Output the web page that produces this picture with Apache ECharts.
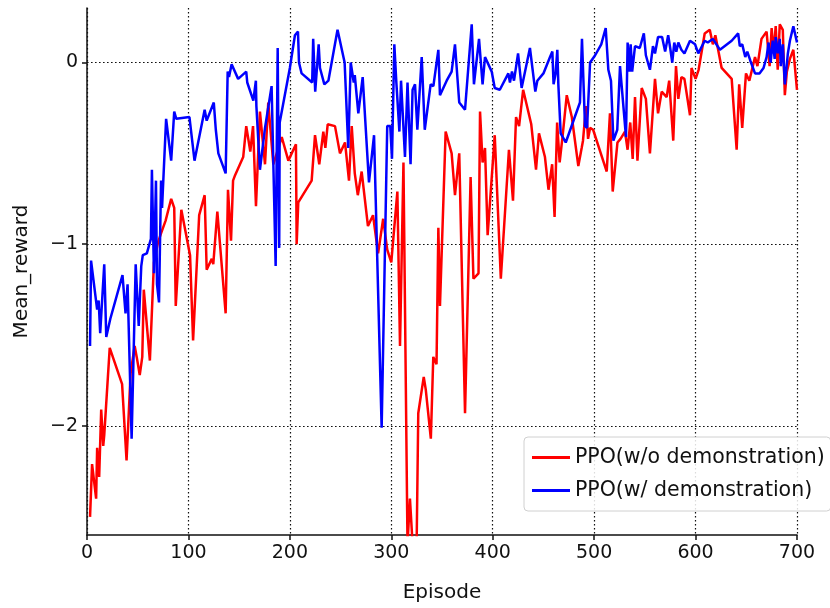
<!DOCTYPE html>
<html>
<head>
<meta charset="utf-8">
<script src="https://cdn.jsdelivr.net/npm/echarts@6/dist/echarts.min.js"></script>
<style>
html, body { margin: 0; padding: 0; background: #fff; }
#chart { width: 830px; height: 608px; }
</style>
</head>
<body>
<div id="chart"></div>
<script>
// episode / mean reward pairs
var noDemo = [
	[3,-2.50],[5,-2.21],[9,-2.40],[10,-2.12],[12,-2.28],[14,-1.91],[16,-2.11],[17,-2.05],[22.4,-1.57],
	[34.6,-1.77],[39,-2.19],[43,-1.71],[47,-1.56],[49,-1.62],[52,-1.72],[54.5,-1.62],[56,-1.25],[62,-1.64],
	[66,-1.10],[70,-0.99],[73,-0.94],[77.5,-0.87],[83,-0.75],[86,-0.80],[87.5,-1.34],[93,-0.81],[101.6,-1.06],
	[104.6,-1.53],[110.6,-0.84],[116,-0.73],[118,-1.14],[123,-1.08],[124.5,-1.11],[128.5,-0.82],[136.7,-1.38],
	[139,-0.70],[142,-0.98],[144,-0.65],[146,-0.62],[154,-0.52],[157,-0.35],[161,-0.49],[163.7,-0.35],
	[166.6,-0.79],[170.5,-0.27],[175.5,-0.56],[178.7,-0.22],[183.7,-0.56],[192,-0.41],[198.5,-0.54],
	[206,-0.45],[206.7,-1.00],[208.3,-0.77],[221.5,-0.65],[224.8,-0.40],[229,-0.56],[233,-0.38],[235,-0.47],
	[237.3,-0.34],[244.5,-0.35],[249.4,-0.50],[254.4,-0.44],[258.3,-0.65],[261,-0.35],[264,-0.61],[267,-0.73],
	[270.8,-0.60],[277,-0.90],[282,-0.84],[287,-1.05],[292,-0.86],[296,-1.03],[300,-1.10],[306,-0.71],
	[308.6,-1.56],[312,-0.55],[316,-2.65],[318.4,-2.40],[321,-2.65],[325,-2.65],[326.6,-1.93],[332,-1.73],
	[334,-1.80],[339,-2.07],[341.4,-1.62],[344.6,-1.66],[346.4,-0.91],[348,-1.34],[353.6,-0.38],[359.5,-0.50],
	[362.8,-0.73],[367,-0.50],[372.7,-1.93],[378.2,-0.63],[381,-1.19],[386,-1.16],[387.5,-0.27],[390,-0.55],
	[392.4,-0.47],[395,-0.95],[402,-0.40],[408,-1.19],[416,-0.48],[420,-0.76],[423,-0.30],[426,-0.35],
	[430,-0.15],[438,-0.34],[442.7,-0.59],[445.6,-0.39],[451.5,-0.52],[455,-0.70],[458.6,-0.56],[461,-0.85],
	[463.5,-0.33],[466,-0.55],[469,-0.40],[473,-0.18],[478,-0.30],[484.4,-0.57],[487.7,-0.47],[489,-0.43],
	[492,-0.24],[494,-0.42],[496,-0.36],[499,-0.37],[512.4,-0.60],[515.6,-0.28],[518.3,-0.71],[523,-0.44],
	[526,-0.42],[530.4,-0.38],[533,-0.48],[535.6,-0.33],[538,-0.53],[540.3,-0.19],[542.7,-0.54],[546.9,-0.14],
	[551,-0.20],[555,-0.50],[560,-0.09],[563,-0.28],[566.6,-0.16],[571.5,-0.19],[574,-0.10],[578,-0.43],
	[580.7,-0.02],[583,-0.20],[586,-0.08],[589,-0.09],[594.5,-0.29],[596,-0.03],[600,-0.09],[603,-0.04],
	[609,0.16],[614,0.18],[617,0.10],[619.5,0.15],[625.7,-0.03],[635.6,-0.09],[640.5,-0.48],[643,-0.12],
	[646,-0.36],[649.7,-0.06],[653,-0.10],[658.6,0.03],[661,-0.02],[665,0.13],[670,0.17],[673,-0.02],
	[675,0.19],[677,0.05],[679,0.20],[681,-0.04],[683,0.21],[686,0.18],[688,-0.18],[690,-0.05],[693,0.02],
	[696.4,0.07],[700,-0.15]
];
var withDemo = [
	[3,-1.56],[4,-1.09],[10,-1.36],[11.5,-1.31],[13,-1.49],[15,-1.30],[17,-1.11],[19,-1.51],[23,-1.41],
	[35,-1.17],[38,-1.38],[40,-1.22],[44,-2.07],[48,-1.11],[51,-1.45],[53.5,-1.12],[55,-1.06],[59,-1.05],
	[63,-0.97],[64,-0.59],[66,-1.16],[68,-0.65],[69,-1.22],[71,-1.32],[73,-0.65],[74,-0.80],[78,-0.31],
	[83,-0.54],[86,-0.27],[88,-0.31],[101,-0.30],[106,-0.54],[116,-0.26],[118,-0.32],[125,-0.22],[127,-0.37],
	[129.5,-0.50],[136.7,-0.61],[138.7,-0.05],[140,-0.08],[142.6,-0.01],[149,-0.09],[157,-0.05],[158,-0.11],
	[164,-0.21],[166.5,-0.10],[167,-0.24],[170.5,-0.59],[175.5,-0.36],[182,-0.13],[186,-1.12],[188,0.08],
	[189.5,-1.02],[190,-0.33],[200,-0.03],[205,0.15],[208,0.17],[209,0.0],[211.6,-0.06],[222,-0.11],[223,0.13],
	[225,-0.16],[228.4,0.10],[229.7,-0.03],[234,-0.12],[238,-0.10],[247,0.18],[254,0.0],[257.6,-0.47],[260,0.0],
	[263,-0.11],[264,-0.07],[267.5,-0.28],[271.8,-0.08],[278,-0.66],[283,-0.40],[290.5,-2.01],[296,-0.35],
	[299,-0.35],[300.7,-0.53],[303,0.10],[305,-0.11],[308,-0.38],[309.6,-0.10],[313.5,-0.52],[316,-0.11],
	[319,-0.56],[321,-0.15],[323.4,-0.12],[325.7,-0.37],[330,0.03],[333,-0.37],[338.8,-0.12],[341.5,-0.13],
	[346.4,0.07],[348,-0.18],[354.6,-0.10],[359.5,-0.05],[362.8,0.10],[367,-0.22],[372.7,-0.26],[379.3,0.21],
	[381.5,-0.12],[386.5,0.13],[390,-0.12],[392.4,0.03],[399,-0.05],[402,-0.14],[407,-0.15],[415.4,-0.06],
	[417,-0.11],[419,-0.05],[421,-0.10],[425,0.05],[428.5,-0.14],[436.7,0.08],[442,-0.16],[444,-0.10],
	[450,-0.06],[456.5,0.03],[458.8,0.06],[460,-0.12],[462,-0.06],[463.7,0.07],[464.7,-0.12],[467,-0.39],
	[472,-0.44],[486,-0.22],[488,0.13],[491,-0.35],[493,-0.36],[496,0.0],[501,0.04],[507,0.10],[511.4,0.19],
	[514,-0.04],[516.6,-0.10],[519,-0.43],[522.8,-0.37],[525.5,-0.02],[531.4,-0.41],[533,0.11],[535,-0.05],
	[536,0.10],[537.5,-0.05],[540.3,0.09],[545,0.08],[549,0.16],[551,0.04],[555,-0.04],[558,0.09],[560,0.05],
	[563,0.14],[567,0.14],[570,0.06],[573,0.15],[575,0.08],[577,0.0],[579,0.11],[581,0.06],[583,0.11],
	[586,0.07],[589,0.05],[594.5,0.12],[599.5,0.10],[602.7,0.05],[609,0.12],[612,0.11],[617,0.13],[624,0.07],
	[635.6,0.12],[642,0.16],[643.6,0.09],[646,0.10],[649,0.03],[651,0.06],[654,0.01],[658.6,-0.06],[663,-0.06],
	[667,-0.03],[670,0.03],[672,0.11],[674,0.0],[676,0.12],[678,0.02],[679,0.14],[681,0.05],[683,0.13],
	[684,-0.02],[686,0.10],[688,-0.12],[691,0.05],[693,0.12],[696.4,0.20],[700,0.11]
];
var seriesNames = ['PPO(w/o demonstration)', 'PPO(w/ demonstration)'];
var yTicks = [-2, -1, 0];

var font = 'DejaVu Sans';
var chart = echarts.init(document.getElementById('chart'));

var dotted = { color: '#111', width: 1.2, type: [1.6, 2.4] };

var option = {
	animation: false,
	backgroundColor: '#fff',
	grid: { left: 87, right: 33, top: 8, bottom: 68 },
	legend: {
		orient: 'vertical',
		left: 524,
		top: 437,
		itemWidth: 38,
		itemHeight: 3,
		itemGap: 12,
		icon: 'rect',
		padding: [10, 6, 10, 8],
		borderColor: '#d0d0d0',
		borderWidth: 1,
		borderRadius: 4,
		backgroundColor: 'rgba(255,255,255,0.85)',
		textStyle: { fontFamily: font, fontSize: 20.5, color: '#111' },
		data: seriesNames
	},
	xAxis: {
		type: 'value',
		min: 0,
		max: 700,
		interval: 100,
		name: 'Episode',
		nameLocation: 'middle',
		nameGap: 48,
		nameTextStyle: { fontFamily: font, fontSize: 20, color: '#111' },
		axisLine: { onZero: false, lineStyle: { color: '#111', width: 1.5 } },
		axisTick: { length: 5, lineStyle: { color: '#111', width: 1.5 } },
		axisLabel: { fontFamily: font, fontSize: 19, color: '#111', margin: 9 },
		splitLine: { show: true, lineStyle: dotted }
	},
	yAxis: {
		type: 'value',
		min: -2.6,
		max: 0.3,
		name: 'Mean_reward',
		nameLocation: 'middle',
		nameGap: 55,
		nameTextStyle: { fontFamily: font, fontSize: 20, color: '#111' },
		axisLine: { show: true, lineStyle: { color: '#111', width: 1.5 } },
		axisTick: { show: true, length: 5, customValues: yTicks, lineStyle: { color: '#111', width: 1.5 } },
		axisLabel: {
			fontFamily: font, fontSize: 19, color: '#111', margin: 9,
			customValues: yTicks,
			formatter: function(v) { return String(v).replace('-', '\u2212'); }
		},
		splitLine: { show: true, lineStyle: dotted }
	},
	series: [{
		name: seriesNames[0],
		type: 'line',
		data: noDemo,
		showSymbol: false,
		color: '#ff0000',
		lineStyle: { color: '#ff0000', width: 2.5 },
		z: 2
	}, {
		name: seriesNames[1],
		type: 'line',
		data: withDemo,
		showSymbol: false,
		color: '#0000ff',
		lineStyle: { color: '#0000ff', width: 2.5 },
		z: 3
	}]
};

chart.setOption(option);
</script>
</body>
</html>
